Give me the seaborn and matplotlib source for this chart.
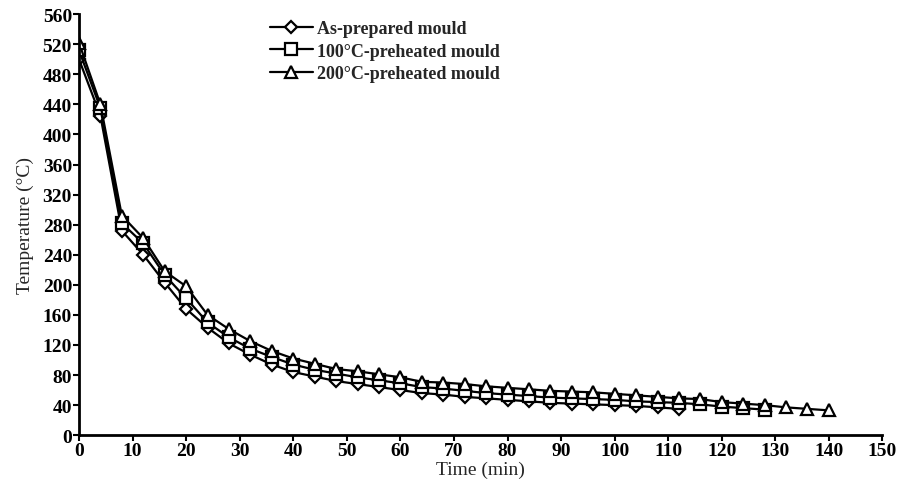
import numpy as np
import pandas as pd
import seaborn as sns
import matplotlib
matplotlib.use("Agg")
import matplotlib.pyplot as plt

labels = ["As-prepared mould", "100\u00b0C-preheated mould", "200\u00b0C-preheated mould"]

t_as = [0, 4, 8, 12, 16, 20, 24, 28, 32, 36, 40, 44, 48, 52, 56, 60, 64, 68, 72, 76,
        80, 84, 88, 92, 96, 100, 104, 108, 112]
y_as = [500, 425, 272, 240, 203, 168, 143, 122, 107, 94, 84, 78, 72, 68, 64, 60, 56, 54,
        51, 49, 47, 45, 43, 42, 41, 40, 39, 37, 35]

t_100 = [0, 4, 8, 12, 16, 20, 24, 28, 32, 36, 40, 44, 48, 52, 56, 60, 64, 68, 72, 76,
         80, 84, 88, 92, 96, 100, 104, 108, 112, 116, 120, 124, 128]
y_100 = [512, 435, 282, 255, 213, 182, 150, 130, 115, 104, 94, 87, 82, 77, 73, 69, 64, 62,
         59, 56, 54, 52, 50, 49, 48, 47, 45, 44, 43, 41, 38, 36, 34]

t_200 = [0, 4, 8, 12, 16, 20, 24, 28, 32, 36, 40, 44, 48, 52, 56, 60, 64, 68, 72, 76,
         80, 84, 88, 92, 96, 100, 104, 108, 112, 116, 120, 124, 128, 132, 136, 140]
y_200 = [522, 440, 292, 262, 218, 198, 160, 141, 125, 112, 102, 95, 88, 85, 81, 77, 71, 70,
         68, 65, 63, 61, 59, 58, 57, 55, 53, 51, 49, 48, 44, 42, 40, 37, 35, 33]

x_ticks = list(range(0, 151, 10))
y_ticks = list(range(0, 561, 40))

sns.set_theme(style="ticks")
plt.rcParams['font.family'] = ['Liberation Serif', 'DejaVu Serif']

fig = plt.figure(figsize=(9.11, 4.89), dpi=100)
ax = fig.add_axes([0.0867, 0.108, 0.882, 0.861])

series = [(t_as, y_as, "D", 6.5), (t_100, y_100, "s", 8), (t_200, y_200, "^", 8)]
for (t, y, m, ms), lab in zip(series, labels):
    df = pd.DataFrame({"t": t, "y": y})
    sns.lineplot(data=df, x="t", y="y", ax=ax, color="black", linewidth=1.6,
                 marker=m, markersize=ms, markerfacecolor="white",
                 markeredgecolor="black", markeredgewidth=1.6, label=lab)

ax.set_xlim(0, 150)
ax.set_ylim(0, 560)
ax.set_xticks(x_ticks)
ax.set_yticks(y_ticks)
for lbl in ax.get_xticklabels() + ax.get_yticklabels():
    lbl.set_fontweight("bold")
    lbl.set_fontsize(14)
ax.tick_params(axis="both", direction="out", length=4, width=1.5, colors="black", pad=1)
ax.set_xlabel("Time (min)", fontsize=14, labelpad=1)
ax.set_ylabel("Temperature (\u00b0C)", fontsize=14, labelpad=6)
for s in ["left", "bottom"]:
    ax.spines[s].set_linewidth(2)
    ax.spines[s].set_color("black")
sns.despine(ax=ax)

leg = ax.legend(loc="upper left", bbox_to_anchor=(0.217, 1.025), frameon=False,
                handlelength=2.4, handletextpad=0.2, labelspacing=0.32,
                prop={"weight": "bold", "size": 13})

fig.savefig("out.png", dpi=100)
